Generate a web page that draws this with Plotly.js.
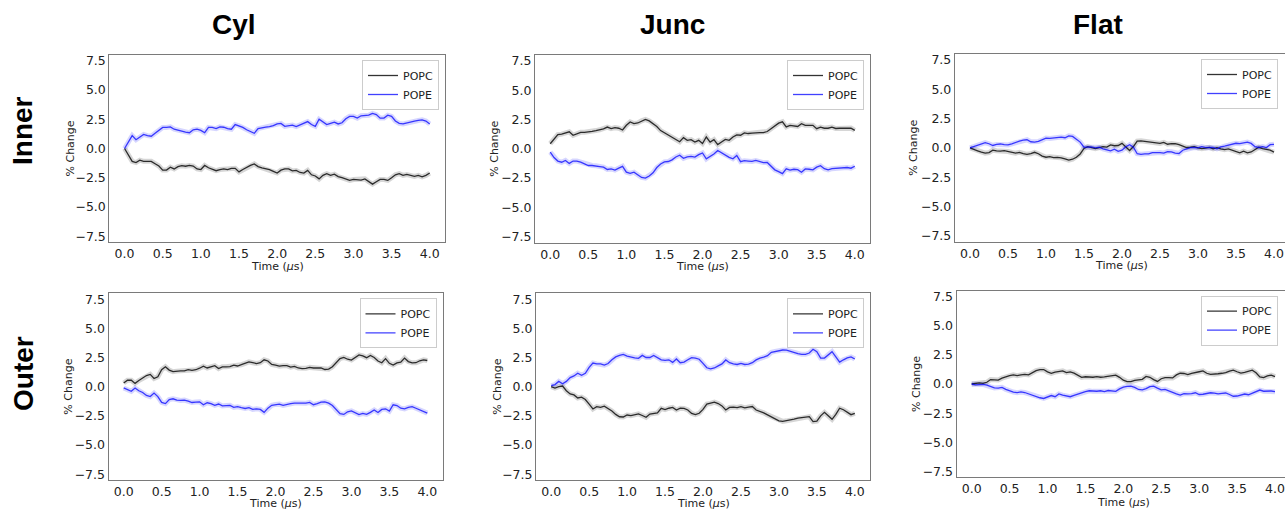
<!DOCTYPE html>
<html><head><meta charset="utf-8">
<script src="https://cdn.plot.ly/plotly-3.0.1.min.js"></script>
<style>html,body{margin:0;padding:0;background:#fff}#chart{width:1285px;height:509px}</style>
</head><body><div id="chart"></div>
<script>
const time = [0,0.05,0.1,0.15,0.2,0.25,0.3,0.35,0.4,0.45,
0.5,0.55,0.6,0.65,0.7,0.75,0.8,0.85,0.9,0.95,
1.0,1.05,1.1,1.15,1.2,1.25,1.3,1.35,1.4,1.45,
1.5,1.55,1.6,1.65,1.7,1.75,1.8,1.85,1.9,1.95,
2.0,2.05,2.1,2.15,2.2,2.25,2.3,2.35,2.4,2.45,
2.5,2.55,2.6,2.65,2.7,2.75,2.8,2.85,2.9,2.95,
3.0,3.05,3.1,3.15,3.2,3.25,3.3,3.35,3.4,3.45,
3.5,3.55,3.6,3.65,3.7,3.75,3.8,3.85,3.9,3.95,
4.0];
const columnTitles = ["Cyl","Junc","Flat"];
const rowTitles = ["Inner","Outer"];
const seriesNames = ["POPC","POPE"];
const xAxisTitle = "Time (<i>μ</i>s)";
const yAxisTitle = "% Change";
const xTickVals = [0,0.5,1,1.5,2,2.5,3,3.5,4];
const yTickVals = [-7.5,-5,-2.5,0,2.5,5,7.5];

const cylInnerPOPC = [0,-0.6,-1.1,-1.2,-1.0,-1.1,-1.1,-1.1,-1.3,-1.5,
-1.85,-1.85,-1.6,-1.75,-1.55,-1.47,-1.52,-1.45,-1.5,-1.75,
-1.8,-1.45,-1.65,-1.75,-1.9,-1.8,-1.75,-1.8,-1.7,-1.7,
-2.0,-1.8,-1.6,-1.45,-1.32,-1.55,-1.65,-1.72,-1.8,-1.95,
-2.1,-1.85,-1.75,-1.75,-1.92,-1.88,-2.05,-2.1,-1.87,-2.25,
-2.35,-2.6,-2.3,-2.15,-2.3,-2.2,-2.4,-2.5,-2.65,-2.73,
-2.65,-2.65,-2.7,-2.6,-2.85,-3.05,-2.85,-2.65,-2.65,-2.73,
-2.5,-2.25,-2.15,-2.3,-2.22,-2.3,-2.38,-2.3,-2.42,-2.3,
-2.1];
const cylInnerPOPE = [0,0.6,1.1,0.75,1.0,1.2,1.1,1.05,1.3,1.55,
1.8,1.8,1.85,1.65,1.55,1.45,1.4,1.35,1.6,1.65,
1.55,1.35,1.8,1.8,1.7,1.85,1.82,1.7,1.65,2.05,
1.95,1.8,1.6,1.45,1.3,1.7,1.78,1.82,1.87,1.95,
2.1,2.15,1.9,1.95,2.0,1.87,2.0,2.15,2.3,2.05,
1.9,2.5,2.3,2.05,2.15,2.25,2.1,2.2,2.55,2.75,
2.75,2.6,2.8,2.82,2.85,3.0,2.9,2.6,2.6,2.85,
2.75,2.35,2.15,2.1,2.2,2.25,2.35,2.4,2.45,2.35,
2.1];
const juncInnerPOPC = [0.43,0.8,1.2,1.25,1.35,1.45,1.15,1.29,1.4,1.4,
1.42,1.49,1.55,1.62,1.7,1.85,1.72,1.8,1.75,1.6,
2.0,2.29,2.15,2.2,2.38,2.51,2.38,2.15,1.9,1.55,
1.35,1.14,0.97,0.75,0.6,0.95,0.72,0.78,0.57,0.72,
0.45,1.0,0.57,0.78,0.35,0.57,0.8,0.72,1.0,1.18,
1.15,1.35,1.3,1.33,1.37,1.37,1.38,1.47,1.7,1.95,
2.18,2.3,1.86,2.0,1.95,1.9,2.14,2.0,2.0,2.0,
1.71,1.84,1.75,1.75,1.85,1.73,1.75,1.74,1.71,1.76,
1.57];
const juncInnerPOPE = [-0.29,-0.75,-1.05,-1.15,-1.0,-1.25,-1.05,-1.05,-1.15,-1.3,
-1.43,-1.43,-1.45,-1.52,-1.57,-1.77,-1.72,-1.82,-1.65,-1.5,
-2.0,-2.1,-2.0,-2.25,-2.45,-2.51,-2.32,-2.05,-1.6,-1.3,
-1.12,-1.09,-0.95,-0.7,-0.55,-0.82,-0.7,-0.65,-0.71,-0.5,
-0.36,-0.86,-0.65,-0.45,-0.15,-0.35,-0.55,-0.73,-0.86,-0.57,
-1.1,-1.02,-1.05,-1.08,-1.0,-1.1,-1.18,-1.17,-1.5,-1.8,
-1.95,-2.12,-1.71,-1.82,-1.75,-1.78,-2.0,-1.72,-1.75,-1.8,
-1.57,-1.45,-1.7,-1.8,-1.7,-1.67,-1.7,-1.65,-1.6,-1.66,
-1.49];
const flatInnerPOPC = [0,-0.1,-0.25,-0.37,-0.45,-0.4,-0.2,-0.25,-0.28,-0.23,
-0.32,-0.4,-0.45,-0.38,-0.5,-0.55,-0.5,-0.38,-0.5,-0.7,
-0.8,-0.75,-0.83,-0.82,-0.85,-0.95,-1.05,-0.97,-0.8,-0.52,
-0.05,0.1,0.0,-0.07,0.02,0.1,0.06,0.25,0.18,0.2,
0.38,0.08,-0.23,0.11,0.58,0.6,0.55,0.49,0.42,0.37,
0.38,0.47,0.31,0.36,0.35,0.27,0.13,0.03,0.05,0.1,
0.0,-0.07,-0.02,0.04,-0.09,0.02,-0.08,-0.15,-0.09,-0.2,
-0.35,-0.42,-0.29,-0.42,-0.35,-0.15,0.05,-0.06,-0.13,-0.2,
-0.37];
const flatInnerPOPE = [0,0.1,0.2,0.34,0.45,0.35,0.2,0.29,0.33,0.27,
0.25,0.34,0.47,0.57,0.65,0.69,0.52,0.49,0.55,0.66,
0.83,0.8,0.85,0.92,0.92,0.86,1.02,0.97,0.75,0.49,
0.05,0.06,0.08,0.0,0.05,-0.08,-0.2,-0.26,-0.12,-0.3,
-0.2,0.1,0.27,0.05,-0.5,-0.55,-0.52,-0.52,-0.4,-0.37,
-0.4,-0.45,-0.32,-0.34,-0.45,-0.48,-0.2,-0.09,0.02,0.03,
0.0,0.11,0.02,0.04,0.03,-0.09,0.08,0.15,0.22,0.34,
0.39,0.36,0.4,0.49,0.38,0.1,0.03,0.1,0.02,0.27,
0.3];
const cylOuterPOPC = [0.32,0.55,0.55,0.28,0.52,0.7,0.95,1.05,0.7,0.85,
1.45,1.7,1.42,1.28,1.33,1.35,1.35,1.45,1.4,1.45,
1.58,1.75,1.6,1.7,1.8,1.55,1.7,1.7,1.72,1.84,
1.77,1.88,2.0,2.12,2.05,1.98,2.05,2.3,2.2,1.9,
1.84,1.76,1.8,1.8,1.68,1.74,1.6,1.55,1.57,1.65,
1.6,1.58,1.6,1.47,1.5,1.7,2.1,2.4,2.5,2.35,
2.28,2.5,2.72,2.63,2.48,2.68,2.5,2.2,2.05,2.4,
2.0,1.85,2.04,2.1,2.45,2.15,2.04,2.05,2.22,2.3,
2.24];
const cylOuterPOPE = [-0.11,-0.28,-0.4,-0.12,-0.35,-0.5,-0.75,-0.85,-0.55,-0.85,
-1.35,-1.45,-1.1,-1.04,-1.15,-1.18,-1.15,-1.24,-1.36,-1.32,
-1.3,-1.55,-1.38,-1.45,-1.6,-1.49,-1.65,-1.62,-1.6,-1.78,
-1.72,-1.8,-1.87,-1.8,-1.95,-1.9,-1.95,-2.2,-1.84,-1.6,
-1.52,-1.5,-1.61,-1.52,-1.45,-1.41,-1.41,-1.46,-1.42,-1.35,
-1.55,-1.45,-1.33,-1.3,-1.41,-1.62,-2.0,-2.32,-2.38,-2.15,
-2.08,-2.25,-2.39,-2.3,-2.38,-2.2,-2.0,-2.22,-1.95,-1.9,
-2.1,-1.55,-1.62,-1.85,-1.9,-1.78,-1.72,-1.85,-2.0,-2.13,
-2.27];
const juncOuterPOPC = [0,-0.12,0.0,0.05,-0.35,-0.62,-0.71,-0.97,-0.9,-1.1,
-1.5,-1.91,-1.71,-1.78,-1.68,-1.85,-2.09,-2.38,-2.58,-2.6,
-2.43,-2.48,-2.38,-2.33,-2.47,-2.62,-2.35,-2.32,-2.25,-1.86,
-1.96,-1.85,-1.78,-2.0,-1.85,-1.87,-2.0,-2.29,-2.4,-2.28,
-1.95,-1.5,-1.44,-1.33,-1.45,-1.65,-2.0,-1.78,-1.75,-1.79,
-1.71,-1.82,-1.75,-1.7,-2.0,-2.1,-2.25,-2.42,-2.57,-2.78,
-2.93,-2.98,-2.93,-2.87,-2.78,-2.7,-2.66,-2.66,-2.57,-3.0,
-2.95,-2.5,-2.2,-2.5,-2.8,-2.38,-1.85,-1.98,-2.22,-2.4,
-2.29];
const juncOuterPOPE = [0.09,0.18,0.45,0.25,0.45,0.78,0.92,1.15,0.98,1.14,
1.65,2.02,1.95,1.95,1.85,1.98,2.3,2.55,2.68,2.77,
2.62,2.52,2.46,2.43,2.68,2.5,2.5,2.68,2.5,2.3,
2.25,2.3,2.08,2.37,2.05,2.1,2.3,2.49,2.45,2.35,
2.0,1.62,1.52,1.6,1.78,1.95,2.29,2.05,1.95,1.9,
2.0,1.9,1.93,2.05,2.29,2.45,2.53,2.65,2.94,3.02,
3.1,3.14,3.13,3.02,2.92,2.83,2.77,2.77,2.88,3.2,
3.0,2.45,2.45,2.75,3.0,2.55,2.1,2.3,2.47,2.55,
2.37];
const flatOuterPOPC = [0,0.05,0.1,0.05,0.15,0.38,0.39,0.34,0.5,0.63,
0.72,0.78,0.72,0.78,0.83,0.78,1.0,1.15,1.23,1.24,
1.04,0.92,1.02,1.1,1.13,0.98,1.04,0.93,0.72,0.57,
0.62,0.59,0.58,0.63,0.58,0.61,0.65,0.69,0.76,0.57,
0.33,0.2,0.2,0.31,0.38,0.4,0.65,0.58,0.38,0.22,
0.45,0.55,0.54,0.52,0.78,0.92,0.9,0.8,0.92,0.96,
1.05,1.12,0.92,0.82,0.83,0.88,0.92,0.97,1.1,1.18,
1.05,0.94,1.0,1.1,1.18,0.96,0.6,0.55,0.7,0.76,
0.63];
const flatOuterPOPE = [0,-0.07,-0.05,-0.03,-0.09,-0.25,-0.34,-0.35,-0.29,-0.46,
-0.6,-0.69,-0.74,-0.68,-0.73,-0.85,-0.97,-1.07,-1.18,-1.24,
-1.1,-0.99,-1.09,-0.85,-0.95,-1.05,-1.09,-0.97,-0.85,-0.72,
-0.65,-0.58,-0.63,-0.62,-0.58,-0.65,-0.56,-0.6,-0.63,-0.42,
-0.27,-0.2,-0.18,-0.29,-0.47,-0.5,-0.4,-0.23,-0.18,-0.35,
-0.5,-0.46,-0.6,-0.74,-0.85,-0.95,-0.83,-0.84,-0.83,-0.75,
-0.9,-0.88,-0.79,-0.75,-0.79,-0.84,-0.8,-0.77,-0.9,-1.05,
-1.03,-0.93,-0.86,-0.92,-0.8,-0.62,-0.52,-0.62,-0.6,-0.6,
-0.66];

const panelData = [
  [cylInnerPOPC, cylInnerPOPE], [juncInnerPOPC, juncInnerPOPE], [flatInnerPOPC, flatInnerPOPE],
  [cylOuterPOPC, cylOuterPOPE], [juncOuterPOPC, juncOuterPOPE], [flatOuterPOPC, flatOuterPOPE]
];

const W = 1285, H = 509;
const panels = [
  {l:109.3, r:445, t:55, b:242, xr:[-0.2,4.2], clip:false, yt:70, xt:266.5},
  {l:535, r:870, t:55, b:242.5, xr:[-0.2,4.2], clip:false, yt:495, xt:266.5},
  {l:954.8, r:1285, t:54, b:241.7, xr:[-0.2,4.145], clip:true, yt:914, xt:265.5},
  {l:108.5, r:442.5, t:293.3, b:480, xr:[-0.2,4.2], clip:false, yt:69, xt:503.5},
  {l:536, r:870, t:293.3, b:480, xr:[-0.2,4.2], clip:false, yt:498, xt:503.5},
  {l:956.5, r:1285, t:290.7, b:477.3, xr:[-0.2,4.132], clip:true, yt:916, xt:502}
];
const lineCol = ['rgba(0,0,0,0.8)', 'rgba(0,0,255,0.75)'];
const haloCol = ['rgba(0,0,0,0.16)', 'rgba(0,0,255,0.16)'];
const spine = '#7a7a7a';
const tickFont = {family:'DejaVu Sans', size:12.5, color:'#222'};
const titleFont = {family:'DejaVu Sans', size:11, color:'#222'};

const traces = [];
const layout = {
  width: W, height: H, margin:{l:0,r:0,t:0,b:0},
  paper_bgcolor:'#fff', plot_bgcolor:'#fff', showlegend:true,
  annotations: [], font:{family:'DejaVu Sans', color:'#222'}
};

panels.forEach((p, i) => {
  const n = i + 1;
  const xs = n === 1 ? '' : String(n);
  const os = String(n + 6);
  const xa = 'x' + xs, ya = 'y' + xs;
  const lg = n === 1 ? 'legend' : 'legend' + n;
  panelData[i].forEach((vals, s) => {
    traces.push({x: time, y: vals, xaxis: xa, yaxis: ya, type:'scatter', mode:'lines',
      line:{color: haloCol[s], width:5}, showlegend:false, hoverinfo:'skip'});
  });
  panelData[i].forEach((vals, s) => {
    traces.push({x: time, y: vals, xaxis: xa, yaxis: ya, type:'scatter', mode:'lines',
      name: seriesNames[s], legend: lg, line:{color: lineCol[s], width:1.3}});
  });
  const xDom = [p.l / W, p.r / W], yDom = [1 - p.b / H, 1 - p.t / H];
  layout['xaxis' + xs] = {
    domain: xDom, anchor: ya, range: p.xr,
    tickmode:'array', tickvals: xTickVals, tickformat:'.1f',
    showline:true, mirror:true, linecolor: spine, linewidth:1, ticks:'',
    showgrid:false, zeroline:false, tickfont: tickFont
  };
  layout['yaxis' + xs] = {
    domain: yDom, anchor: xa, range:[-8, 8],
    tickmode:'array', tickvals: yTickVals, tickformat:'.1f',
    showline:true, mirror: p.clip ? false : true, linecolor: spine, linewidth:1, ticks:'',
    showgrid:false, zeroline:false, tickfont: tickFont
  };
  layout['xaxis' + os] = {
    overlaying: xa, anchor: ya, range: p.xr, tickmode:'array', tickvals: xTickVals,
    showticklabels:false, ticks:'outside', ticklen:3.5, tickcolor: spine, tickwidth:1,
    showline:false, showgrid:false, zeroline:false
  };
  layout['yaxis' + os] = {
    overlaying: ya, anchor: xa, range:[-8, 8], tickmode:'array', tickvals: yTickVals,
    showticklabels:false, ticks:'outside', ticklen:3.5, tickcolor: spine, tickwidth:1,
    showline:false, showgrid:false, zeroline:false
  };
  layout[lg] = {
    x: (Math.min(p.r, 1284) - 6) / W, y: 1 - (p.t + 5) / H, xanchor:'right', yanchor:'top',
    xref:'paper', yref:'paper',
    bgcolor:'rgba(255,255,255,0.85)', bordercolor:'#cccccc', borderwidth:1,
    font:{family:'DejaVu Sans', size:11, color:'#222'}, itemwidth:30, tracegroupgap:0
  };
  layout.annotations.push({text: xAxisTitle, xref: xa, x: 2, yref:'paper', y: 1 - p.xt / H,
    xanchor:'center', yanchor:'middle', showarrow:false, font: titleFont});
  layout.annotations.push({text: yAxisTitle, xref:'paper', x: p.yt / W, yref:'paper',
    y: 1 - ((p.t + p.b) / 2) / H, xanchor:'center', yanchor:'middle', textangle:-90,
    showarrow:false, font: titleFont});
});

const colX = [234, 672, 1098];
columnTitles.forEach((t, i) => {
  layout.annotations.push({text:'<b>' + t + '</b>', x: colX[i] / W, y: 1 - 25 / H,
    xref:'paper', yref:'paper', showarrow:false, xanchor:'center', yanchor:'middle',
    font:{family:'Liberation Sans', size:28, color:'#000'}});
});
const rowY = [131, 374];
rowTitles.forEach((t, i) => {
  layout.annotations.push({text:'<b>' + t + '</b>', x: 23 / W, y: 1 - rowY[i] / H,
    xref:'paper', yref:'paper', showarrow:false, xanchor:'center', yanchor:'middle',
    textangle:-90, font:{family:'Liberation Sans', size:28, color:'#000'}});
});

Plotly.newPlot('chart', traces, layout, {staticPlot:true, displayModeBar:false});
</script></body></html>
